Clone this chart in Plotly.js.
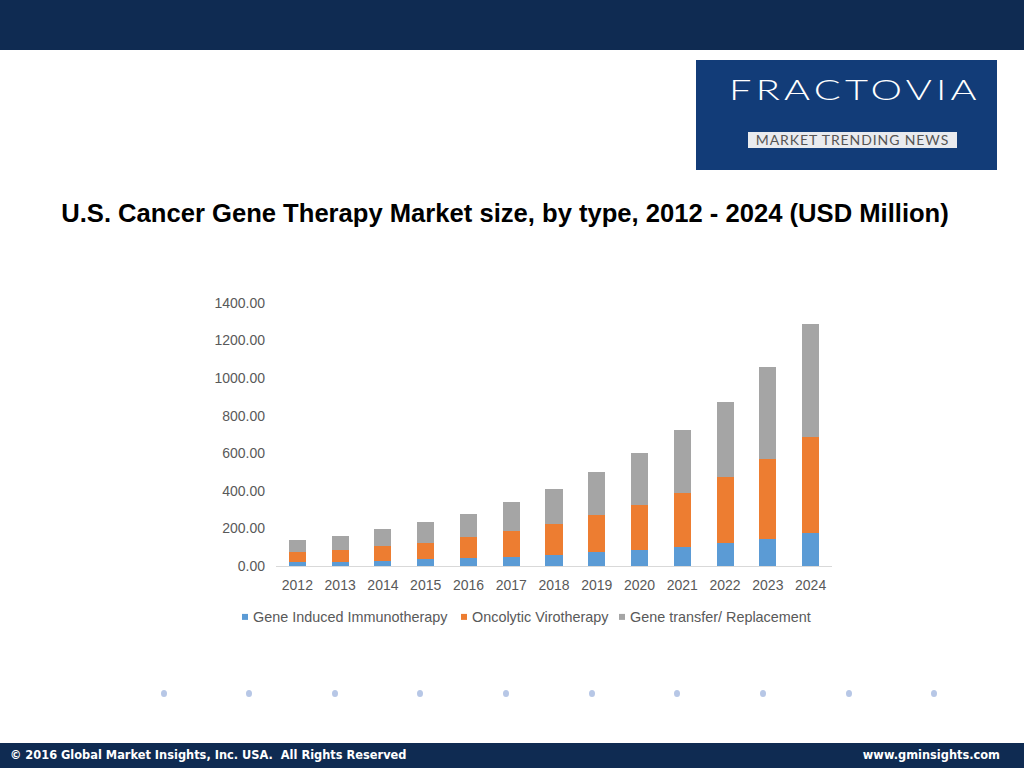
<!DOCTYPE html>
<html>
<head>
<meta charset="utf-8">
<script src="https://cdn.plot.ly/plotly-3.0.1.min.js"></script>
<style>
  body { margin: 0; width: 1024px; height: 768px; background: #fff; position: relative; overflow: hidden; }
  #chart { position: absolute; left: 0; top: 0; width: 1024px; height: 768px; }
  .topbar { position: absolute; left: 0; top: 0; width: 1024px; height: 50px; background: #0f2b52; z-index: 2; }
  .footer { position: absolute; left: 0; top: 743px; width: 1024px; height: 25px; background: #0f2b52; z-index: 2;
            color: #fff; font-family: "DejaVu Sans", sans-serif; font-weight: bold; font-size: 11.4px; line-height: 25px; }
  .footer .l { position: absolute; left: 10px; }
  .footer .r { position: absolute; right: 24px; }
  .logo { position: absolute; left: 696px; top: 60px; width: 301px; height: 110px; background: #123c78; z-index: 2; }
  .logo .name { position: absolute; left: 33px; top: 12px; color: #fff; white-space: nowrap;
                font-family: Lato, sans-serif; font-weight: 300; font-size: 28px; letter-spacing: 3px;
                transform-origin: 0 0; transform: scaleX(1.42); }
  .logo .tag { position: absolute; left: 52px; top: 72px; width: 209px; height: 16px; background: #e9ebef;
               color: #555; font-family: Lato, sans-serif; font-size: 14px; line-height: 16px; text-align: center; letter-spacing: 0.9px; }
  .dot { position: absolute; top: 690px; width: 6px; height: 7px; border-radius: 50%; background: #b7c7e6; z-index: 2; }
</style>
</head>
<body>
<div id="chart"></div>
<div class="topbar"></div>
<div class="logo"><div class="name">FRACTOVIA</div><div class="tag">MARKET TRENDING NEWS</div></div>
<div class="footer"><span class="l">© 2016 Global Market Insights, Inc. USA.&nbsp; All Rights Reserved</span><span class="r">www.gminsights.com</span></div>
<script>
const years = ["2012","2013","2014","2015","2016","2017","2018","2019","2020","2021","2022","2023","2024"];
const geneInduced = [20, 20, 28, 35, 42, 49, 60, 72, 86, 102, 121, 143, 177];
const oncolytic = [53, 64, 77, 88, 110, 138, 162, 198, 239, 285, 351, 429, 508];
const geneTransfer = [64, 78, 93, 112, 127, 153, 190, 229, 277, 339, 403, 485, 605];
const seriesNames = ["Gene Induced Immunotherapy", "Oncolytic Virotherapy", "Gene transfer/ Replacement"];
const seriesColors = ["#5b9bd5", "#ed7d31", "#a5a5a5"];
const dotX = [164, 249, 335, 420, 506, 592, 677, 763, 849, 934];

// dots row under the chart
dotX.forEach(function (x) {
    var d = document.createElement("div");
    d.className = "dot";
    d.style.left = (x - 3) + "px";
    document.body.appendChild(d);
});

// plot area in pixels, used to place the hand made legend
var plotL = 276, plotR = 832, plotT = 303, plotB = 566.5;
function px2x(px) { return (px - plotL) / (plotR - plotL); }
function px2y(py) { return (plotB - py) / (plotB - plotT); }

var allSeries = [geneInduced, oncolytic, geneTransfer];
var legendX = [242, 461, 619];   // left of each legend square
var legendY = 617.5;
var data = [];
var shapes = [];
var annotations = [];
for (var i = 0; i < allSeries.length; i++) {
    data.push({
        x: years,
        y: allSeries[i],
        name: seriesNames[i],
        type: "bar",
        marker: {color: seriesColors[i]},
        hoverinfo: "x+y+name"
    });
    shapes.push({
        type: "rect", xref: "paper", yref: "paper",
        x0: px2x(legendX[i]), x1: px2x(legendX[i] + 6),
        y0: px2y(legendY - 3), y1: px2y(legendY + 3),
        fillcolor: seriesColors[i], line: {width: 0}
    });
    annotations.push({
        xref: "paper", yref: "paper",
        x: px2x(legendX[i] + 9), y: px2y(legendY),
        xanchor: "left", yanchor: "middle",
        text: seriesNames[i], showarrow: false,
        font: {size: 14.4, color: "#595959"}
    });
}

var layout = {
    width: 1024,
    height: 768,
    barmode: "stack",
    bargap: 0.6,
    paper_bgcolor: "rgba(0,0,0,0)",
    plot_bgcolor: "rgba(0,0,0,0)",
    margin: {l: plotL, r: 1024 - plotR, t: plotT, b: 768 - plotB, pad: 0},
    font: {family: "Liberation Sans, Arial, sans-serif", color: "#595959"},
    title: {
        text: "U.S. Cancer Gene Therapy Market size, by type, 2012 - 2024 (USD Million)",
        font: {family: "Liberation Sans, Arial, sans-serif", size: 25.6, color: "#000", weight: "bold"},
        xref: "container", yref: "container",
        x: 505 / 1024, xanchor: "center",
        y: 1 - 213 / 768, yanchor: "middle"
    },
    xaxis: {
        type: "category",
        showgrid: false,
        showline: true,
        linecolor: "#d9d9d9",
        linewidth: 1,
        ticks: "",
        ticklabelstandoff: 6,
        tickfont: {size: 14, color: "#595959"},
        fixedrange: true
    },
    yaxis: {
        range: [0, 1400],
        dtick: 200,
        tickformat: ".2f",
        showgrid: false,
        zeroline: false,
        showline: false,
        ticks: "",
        ticklabelstandoff: 10,
        tickfont: {size: 14, color: "#595959"},
        fixedrange: true
    },
    shapes: shapes,
    annotations: annotations,
    showlegend: false
};

Plotly.newPlot("chart", data, layout, {displayModeBar: false, staticPlot: true});
</script>
</body>
</html>
